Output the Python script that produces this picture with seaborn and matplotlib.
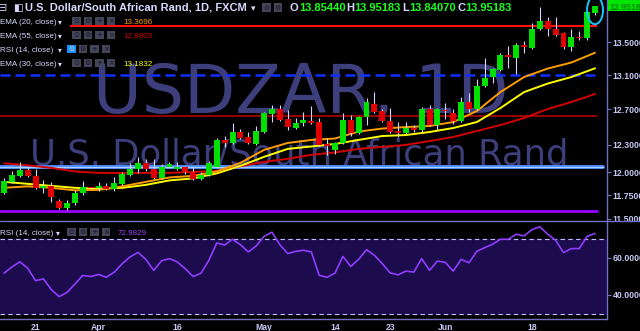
import numpy as np
import pandas as pd
import matplotlib
matplotlib.use('Agg')
import matplotlib.pyplot as plt
import seaborn as sns
from matplotlib.patches import Rectangle, Ellipse
from matplotlib.lines import Line2D
from matplotlib.transforms import ScaledTranslation
from matplotlib.ticker import NullLocator

# ---------------- data ----------------
dates = pd.bdate_range('2018-03-15', periods=76)

opens = [11.775, 11.893, 11.958, 12.023, 11.958, 11.829, 11.850, 11.691, 11.617, 11.670,
         11.775, 11.834, 11.829, 11.850, 11.818, 11.872, 11.969, 12.034, 12.100, 12.034,
         11.936, 12.056, 12.034, 12.056, 12.001, 11.925, 11.969, 12.056, 12.354, 12.320,
         12.443, 12.387, 12.309, 12.443, 12.648, 12.705, 12.590, 12.488, 12.545, 12.567,
         12.556, 12.309, 12.243, 12.320, 12.579, 12.432, 12.613, 12.763, 12.682, 12.567,
         12.454, 12.432, 12.488, 12.465, 12.705, 12.522, 12.699, 12.659, 12.567, 12.786,
         12.705, 12.972, 13.079, 13.162, 13.342, 13.306, 13.463, 13.427, 13.660, 13.759,
         13.660, 13.611, 13.439, 13.561, 13.549, 13.8544]
closes = [11.904, 11.969, 12.023, 11.958, 11.829, 11.850, 11.733, 11.617, 11.670, 11.775,
          11.839, 11.824, 11.850, 11.818, 11.882, 11.979, 12.034, 12.100, 12.034, 11.936,
          12.056, 12.089, 12.056, 12.001, 11.925, 11.969, 12.100, 12.354, 12.320, 12.443,
          12.376, 12.320, 12.454, 12.659, 12.705, 12.579, 12.499, 12.545, 12.579, 12.545,
          12.298, 12.287, 12.320, 12.579, 12.432, 12.613, 12.786, 12.671, 12.567, 12.443,
          12.432, 12.488, 12.465, 12.705, 12.522, 12.705, 12.682, 12.567, 12.786, 12.705,
          12.972, 13.067, 13.174, 13.342, 13.318, 13.463, 13.439, 13.660, 13.759, 13.660,
          13.586, 13.439, 13.561, 13.549, 13.872, 13.95183]
highs = [11.936, 12.012, 12.111, 12.056, 12.034, 11.915, 11.893, 11.712, 11.701, 11.807,
         11.904, 11.839, 11.893, 11.882, 11.947, 12.001, 12.100, 12.166, 12.144, 12.144,
         12.089, 12.111, 12.111, 12.067, 12.056, 12.001, 12.122, 12.376, 12.398, 12.545,
         12.477, 12.443, 12.511, 12.671, 12.751, 12.751, 12.694, 12.602, 12.671, 12.739,
         12.602, 12.376, 12.331, 12.659, 12.636, 12.625, 12.832, 12.902, 12.705, 12.717,
         12.556, 12.556, 12.522, 12.728, 12.751, 12.717, 12.774, 12.705, 12.844, 12.890,
         13.055, 13.306, 13.186, 13.366, 13.451, 13.488, 13.512, 13.734, 13.935, 13.809,
         13.809, 13.623, 13.660, 13.635, 13.885, 13.95183]
lows = [11.765, 11.882, 11.947, 11.947, 11.818, 11.775, 11.680, 11.606, 11.596, 11.648,
        11.754, 11.818, 11.797, 11.807, 11.797, 11.861, 11.958, 11.990, 12.012, 11.925,
        11.925, 12.045, 12.023, 11.979, 11.915, 11.915, 11.958, 12.045, 12.276, 12.309,
        12.365, 12.309, 12.298, 12.432, 12.556, 12.567, 12.465, 12.477, 12.511, 12.533,
        12.287, 12.188, 12.199, 12.309, 12.398, 12.420, 12.522, 12.659, 12.556, 12.432,
        12.387, 12.420, 12.443, 12.443, 12.511, 12.465, 12.590, 12.533, 12.556, 12.671,
        12.694, 12.961, 13.008, 13.150, 13.186, 13.114, 13.366, 13.415, 13.648, 13.574,
        13.574, 13.415, 13.390, 13.524, 13.524, 13.8407]

ema_bars = [0, 3, 6, 9, 12, 15, 18, 21, 24, 27, 30, 33, 36, 39, 42, 45, 48, 51, 54, 57,
            60, 63, 66, 69, 72, 75]
ema20 = [11.829, 11.845, 11.829, 11.802, 11.807, 11.845, 11.893, 11.941, 11.958, 12.006,
         12.100, 12.243, 12.320, 12.354, 12.370, 12.448, 12.482, 12.499, 12.511, 12.556,
         12.682, 12.902, 13.079, 13.180, 13.252, 13.370]
ema30 = [11.893, 11.872, 11.850, 11.829, 11.818, 11.829, 11.861, 11.909, 11.931, 11.985,
         12.067, 12.166, 12.254, 12.281, 12.309, 12.354, 12.398, 12.409, 12.443, 12.488,
         12.556, 12.717, 12.902, 13.002, 13.079, 13.183]
ema55 = [12.095, 12.073, 12.045, 12.006, 11.990, 11.990, 11.990, 11.990, 12.001, 12.012,
         12.062, 12.111, 12.144, 12.188, 12.215, 12.254, 12.276, 12.298, 12.342, 12.387,
         12.454, 12.522, 12.602, 12.705, 12.786, 12.879]

rsi = [51.7, 55.0, 57.8, 54.4, 47.7, 48.6, 42.9, 39.1, 41.4, 45.9,
       50.5, 49.9, 51.0, 49.5, 52.3, 56.8, 60.4, 62.9, 59.1, 53.2,
       58.4, 59.5, 57.7, 54.1, 49.9, 51.7, 58.6, 67.9, 66.8, 69.9,
       67.0, 63.1, 66.3, 71.5, 73.7, 67.0, 62.2, 63.4, 64.0, 63.1,
       50.5, 49.5, 51.7, 60.7, 55.3, 59.1, 64.3, 61.3, 56.8, 51.9,
       50.8, 52.8, 52.3, 59.5, 53.2, 58.2, 57.5, 52.8, 59.1, 57.3,
       63.4, 65.4, 67.2, 69.9, 69.9, 72.6, 71.7, 75.1, 76.6, 72.6,
       69.4, 62.7, 64.9, 64.9, 71.5, 72.98]

tick_dates = ['2018-03-21', '2018-04-02', '2018-04-16', '2018-05-01',
              '2018-05-14', '2018-05-23', '2018-06-01', '2018-06-18']
tick_text = ['21', 'Apr', '16', 'May', '14', '23', 'Jun', '18']
price_ticks = [13.5, 13.1, 12.7, 12.3, 12.0, 11.75, 11.5]
rsi_ticks = [60, 40]

level_red = 13.70
level_blue = 13.10
level_darkred = 12.63
level_lightblue = 12.05
level_purple = 11.58

ohlc_labels = ['O', 'H', 'L', 'C']
ohlc_values = ['13.85440', '13.95183', '13.84070', '13.95183']
ema20_last, ema55_last, ema30_last, rsi_last = '13.3696', '12.8803', '13.1832', '72.9829'

# ---------------- style ----------------
sns.set_theme(style='dark', rc={'axes.facecolor': 'black', 'figure.facecolor': 'black'})
plt.rcParams['font.family'] = ['Liberation Sans', 'DejaVu Sans']

GREEN, RED, WICK = '#00e000', '#e00000', '#d4d4ff'
SPINE, TXT, LEG = '#7070c4', '#c8c8f5', '#d8d8ff'
WM = '#3c3f7c'

W, H = 640, 331
fig = plt.figure(figsize=(W / 100, H / 100), dpi=100, facecolor='black')


def fx(x):
    return x / W


def fy(y):
    return 1 - y / H


ax = fig.add_axes([0, fy(220), fx(607), 220 / H], zorder=0)
rax = fig.add_axes([0, fy(319), fx(607), 98 / H], zorder=2)
for a in (ax, rax):
    a.set_facecolor('black')
    a.grid(False)
    for s in a.spines.values():
        s.set_visible(False)

pos = np.arange(len(dates))
o, c, h, l = map(np.array, (opens, closes, highs, lows))

# watermark
ax.text(0.496, 0.486, 'USDZAR, 1D', transform=ax.transAxes, ha='center', va='baseline',
        fontsize=48, color=WM, family='DejaVu Sans', zorder=0.2)
ax.text(0.049, 0.2545, 'U.S. Dollar/South African Rand', transform=ax.transAxes, ha='left',
        va='baseline', fontsize=25.5, color=WM, family='DejaVu Sans', zorder=0.2)

# horizontal levels
ax.hlines(level_red, 8.4, 75.2, color='#ff1010', lw=1.5, zorder=1)
ax.axhline(level_blue, xmax=597 / 607, color='#1030ff', lw=1.8, ls=(0, (4, 2)), zorder=1)
ax.axhline(level_darkred, xmax=597 / 607, color='#b00000', lw=1.2, zorder=1)
ax.axhline(level_lightblue, xmax=603 / 607, color='#4d8cff', lw=2.8, zorder=1)
ax.axhline(level_lightblue, xmax=603 / 607, color='#a8d0ff', lw=0.9, zorder=1.1)
ax.axhline(level_purple, xmax=597 / 607, color='#9a00ff', lw=2.0, zorder=1)

# EMAs
ema_df = pd.DataFrame({'bar': ema_bars, 'e20': ema20, 'e30': ema30, 'e55': ema55})
sns.lineplot(data=ema_df, x='bar', y='e55', ax=ax, color='#d40000', lw=1.4, zorder=2,
             estimator=None, sort=False)
sns.lineplot(data=ema_df, x='bar', y='e30', ax=ax, color='#ffff00', lw=1.4, zorder=2,
             estimator=None, sort=False)
sns.lineplot(data=ema_df, x='bar', y='e20', ax=ax, color='#ff9c00', lw=1.4, zorder=2,
             estimator=None, sort=False)

# candles
colors = np.where(c >= o, GREEN, RED)
ax.vlines(pos, l, h, color=WICK, lw=0.8, zorder=3)
ax.bar(pos, np.maximum(np.abs(c - o), 0.009), bottom=np.minimum(o, c), width=0.76,
       color=colors, linewidth=0, zorder=4)

ax.set_yscale('log')
ax.set_ylim(11.489, 14.025)
ax.set_xlim(-0.51, 76.52)
ax.set_xlabel('')
ax.set_ylabel('')
ax.set_xticks([])
ax.yaxis.tick_right()
ax.set_yticks(price_ticks)
ax.yaxis.set_minor_locator(NullLocator())
ax.set_yticklabels([f'{t:.4f}' for t in price_ticks])
ax.tick_params(axis='y', which='major', direction='out', length=3, width=0.8, color=SPINE,
               labelcolor=TXT, labelsize=6.3, pad=1.2, right=True, left=False)
for t in ax.get_yticklabels():
    t.set_fontweight('bold')
ax.spines['right'].set_visible(True)
ax.spines['right'].set_color(SPINE)
ax.spines['right'].set_linewidth(1)

# highlight ellipse on last bar
last = len(dates) - 1
ell_tr = fig.dpi_scale_trans + ScaledTranslation(last, (h[last] + l[last]) / 2, ax.transData)
ax.add_artist(Ellipse((0, 0), 0.16, 0.28, transform=ell_tr, fill=False,
                      edgecolor='#12c8ff', lw=1.4, zorder=6, clip_on=False))

# RSI panel
rax.axhspan(30, 70, color='#1c0b4d', zorder=0)
rax.axhline(70, color='#c4bcff', lw=0.8, ls=(0, (4, 3)), zorder=1)
rax.axhline(30, color='#c4bcff', lw=0.8, ls=(0, (4, 3)), zorder=1)
sns.lineplot(x=pos, y=rsi, ax=rax, color='#8f3dff', lw=1.2, zorder=2)
rax.set_ylim(27.1, 79.7)
rax.set_xlim(-0.51, 76.52)
rax.set_xlabel('')
rax.set_ylabel('')
rax.yaxis.tick_right()
rax.set_yticks(rsi_ticks)
rax.set_yticklabels([f'{t:.4f}' for t in rsi_ticks])
rax.tick_params(axis='y', direction='out', length=3, width=0.8, color=SPINE,
                labelcolor=TXT, labelsize=6.3, pad=1.2, right=True, left=False)
tick_pos = [dates.get_loc(pd.Timestamp(d)) for d in tick_dates]
rax.set_xticks(tick_pos)
rax.set_xticklabels(tick_text)
rax.tick_params(axis='x', length=0, pad=3, labelsize=6.2, labelcolor=TXT, bottom=True)
for t in rax.get_yticklabels() + rax.get_xticklabels():
    t.set_fontweight('bold')
for s in ('right', 'bottom'):
    rax.spines[s].set_visible(True)
    rax.spines[s].set_color(SPINE)
    rax.spines[s].set_linewidth(1)

# mask below separator on the price scale, separator line
fig.add_artist(Rectangle((fx(607.5), 0), 1, fy(221.5), transform=fig.transFigure,
                         facecolor='black', edgecolor='none', zorder=1))
fig.add_artist(Line2D([0, 1], [fy(221), fy(221)], transform=fig.transFigure,
                      color=SPINE, lw=1, zorder=3))

# last price tag
fig.add_artist(Rectangle((fx(607.5), fy(11)), 1, 12 / H, transform=fig.transFigure,
                         facecolor='#00e600', edgecolor='none', zorder=4))
fig.text(fx(609), fy(9.5), ohlc_values[3], fontsize=6.3, fontweight='bold', color='#0a8a0a',
         va='baseline', ha='left', zorder=5)


# legend rows
def buttons(x0, yb, n, step, hl=None):
    glyphs = ['⊙', '⚙', '+', '×']
    for k in range(n):
        x = x0 + k * step
        fc = '#1e90ff' if hl == k else '#45455a'
        gc = '#d8ecff' if hl == k else '#14141f'
        fig.add_artist(Rectangle((fx(x), fy(yb + 1)), 8.5 / W, 8.5 / H,
                                 transform=fig.transFigure, facecolor=fc,
                                 edgecolor='none', zorder=5))
        fig.text(fx(x + 4.25), fy(yb - 3.2), glyphs[k], fontsize=5, color=gc,
                 family='DejaVu Sans', ha='center', va='center', zorder=6)


def txt(x, yb, s, color=LEG, size=5.8, weight='normal', **kw):
    fig.text(fx(x), fy(yb), s, fontsize=size, color=color, fontweight=weight,
             va='baseline', ha='left', zorder=6, **kw)


txt(-2, 10.7, '⊟', size=8, family='DejaVu Sans')
txt(13, 10.7, '◧', size=7.5, family='DejaVu Sans')
txt(25, 10.7, 'U.S. Dollar/South African Rand, 1D, FXCM', size=8, weight='bold')
txt(251, 10.7, '▾', size=6.5)
buttons(262, 10.7, 2, 11.5)
for lab, val, xl, xv in zip(ohlc_labels, ohlc_values, [290, 346, 402, 457], [299, 354, 409, 465]):
    txt(xl, 10.7, lab, size=8, weight='bold')
    txt(xv, 10.7, val, color='#1aff1a', size=8, weight='bold')

rows = [('EMA (20, close)', 24.3, ema20_last, '#ff9c00', None),
        ('EMA (55, close)', 38.3, ema55_last, '#d40000', None),
        ('RSI (14, close)', 52.3, None, None, 0),
        ('EMA (30, close)', 66.0, ema30_last, '#ffff00', None)]
for lab, yb, val, vc, hl in rows:
    txt(-0.5, yb, lab)
    txt(58, yb, '▾', size=5.5)
    bx = 67 if hl is not None else 72
    buttons(bx, yb, 4, 11.5, hl)
    if val:
        txt(123, yb, val, color=vc)

txt(-0.5, 235, 'RSI (14, close)')
txt(56, 235, '▾', size=5.5)
buttons(67, 235, 4, 11.5)
txt(118, 235, rsi_last, color='#a040ff')

fig.savefig('out.png', dpi=100, facecolor='black')
